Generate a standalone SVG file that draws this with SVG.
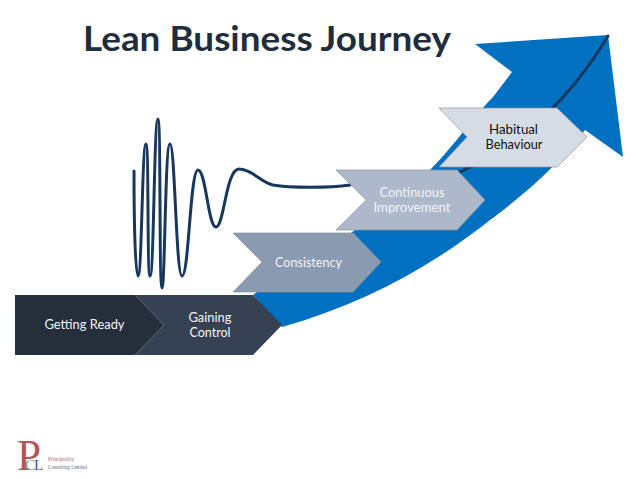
<svg xmlns="http://www.w3.org/2000/svg" width="638" height="479" viewBox="0 0 638 479">
<style>
.t{font-family:Lato,"Open Sans",sans-serif;font-size:13.500px;text-anchor:middle;fill:#f2f4f7}
.c{stroke:#8f949b;stroke-width:.7}
.s{font-family:"Liberation Serif",serif}
</style>
<rect width="638" height="479" fill="#fff"/>
<g id="growth-arrow">
<path fill="#0070c0" d="M475 44L608 35L623 157L585 130C550 175 510 205 490 220C430 268 360 305 282 327L253 295C290 268 320 255 355 230L430 170C455 145 475 115 493 97L512 72Z"/>
</g>
<g id="connectors" fill="none" stroke="#17375e" stroke-linecap="round" stroke-linejoin="round">
<path stroke-width="3" d="M134 171C134 215 135 276 138 276C142 276 142 144 146 144C149 144 147 276 150 276C154 276 154 119 158 119C161 119 159 288 162 288C165 288 165 144 170 144C175 144 176 276 182 276C189 276 190 170 198 170C206 170 208 227 216 227C224 227 226 169 239 169C252 169 260 182 273 185C290 188 330 188 350 185"/>
<path stroke-width="2.800" d="M608 36C570 100 520 145 460 172"/>
</g>
<g id="getting-ready">
<path fill="#252e3b" d="M15 295H135L164 325L135 355H15Z"/>
<text class="t" x="84.500" y="329" textLength="80" lengthAdjust="spacingAndGlyphs">Getting Ready</text>
</g>
<g id="gaining-control">
<path fill="#364253" d="M135 295H253L282 325L253 355H135L164 325Z"/>
<text class="t" x="210" y="322" textLength="43" lengthAdjust="spacingAndGlyphs">Gaining</text>
<text class="t" x="210" y="337" textLength="41" lengthAdjust="spacingAndGlyphs">Control</text>
</g>
<g id="consistency">
<path class="c" fill="#8a9ab0" d="M233 233H353L381 262L353 292H233L262 262Z"/>
<text class="t" x="308.500" y="267" textLength="67" lengthAdjust="spacingAndGlyphs">Consistency</text>
</g>
<g id="continuous-improvement">
<path class="c" fill="#adb8ca" d="M336 170H457L485 200L457 230H336L366 200Z"/>
<text class="t" x="412" y="197" textLength="65" lengthAdjust="spacingAndGlyphs">Continuous</text>
<text class="t" x="412" y="212" textLength="77" lengthAdjust="spacingAndGlyphs">Improvement</text>
</g>
<g id="habitual-behaviour">
<path class="c" fill="#d6dce5" d="M439 108H557L587 137L557 167H439L467 137Z"/>
<text class="t" style="fill:#111" x="513.500" y="134" textLength="49" lengthAdjust="spacingAndGlyphs">Habitual</text>
<text class="t" style="fill:#111" x="514" y="149" textLength="57" lengthAdjust="spacingAndGlyphs">Behaviour</text>
</g>
<g id="title">
<text x="83" y="51" font-family="Lato,'Open Sans',sans-serif" font-weight="700" font-size="35" fill="#1f2d3d" textLength="368" lengthAdjust="spacingAndGlyphs">Lean Business Journey</text>
</g>
<g id="logo">
<text class="s" x="17" y="470" font-size="44" fill="#b5545c" textLength="24" lengthAdjust="spacingAndGlyphs">P</text>
<text class="s" x="25" y="470" font-size="15" fill="#6aa57a">C</text>
<text class="s" x="34" y="470" font-size="15" fill="#3d5878">L</text>
<text class="s" x="48" y="461" font-size="5.500" fill="#a8646c" textLength="26" lengthAdjust="spacingAndGlyphs">Principality</text>
<text class="s" x="48" y="468.500" font-size="5.500" fill="#5a6a80" textLength="39" lengthAdjust="spacingAndGlyphs">Consulting Limited</text>
</g>
</svg>
